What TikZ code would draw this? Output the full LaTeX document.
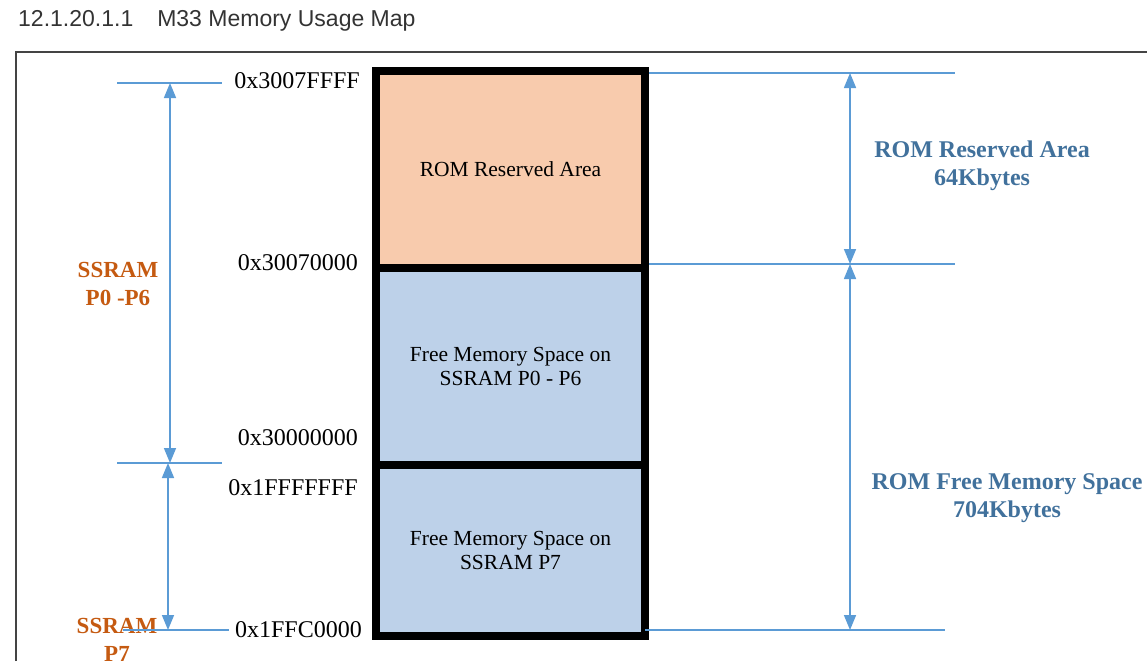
\documentclass[tikz,border=0pt]{standalone}
\usepackage{fontspec}
\setmainfont{Liberation Serif}
\newfontfamily\headfont{Liberation Sans}
\usetikzlibrary{positioning,arrows.meta}
\definecolor{peach}{HTML}{F8CBAD}
\definecolor{ramblue}{HTML}{BDD1E9}
\definecolor{dimline}{HTML}{5B9BD5}
\definecolor{romtext}{HTML}{41719C}
\definecolor{ssramtext}{HTML}{C55A11}
\definecolor{framegray}{HTML}{444444}
\definecolor{headgray}{HTML}{333333}

\begin{document}
\begin{tikzpicture}[x=1pt, y=-1pt,
  membox/.style={draw=black, line width=8pt, outer sep=0pt, minimum width=269pt, align=center, font=\fontsize{21.5}{24}\selectfont},
  addr/.style={anchor=east, inner sep=0pt, font=\fontsize{24}{28}\selectfont},
  romlabel/.style={align=center, text=romtext, font=\fontsize{24}{28}\selectfont\bfseries},
  ssramlabel/.style={align=center, text=ssramtext, font=\fontsize{23}{28}\selectfont\bfseries},
  dimtick/.style={draw=dimline, line width=1.6pt},
  dimarrow/.style={draw=dimline, line width=1.6pt, {Triangle[length=15pt,width=12pt]}-{Triangle[length=15pt,width=12pt]}}]
  \useasboundingbox (0,0) rectangle (1147,661);

  % heading and frame
  \node[anchor=west, inner sep=0pt, text=headgray, font=\headfont\fontsize{23}{26}\selectfont] (title) at (18,21) {12.1.20.1.1\hspace{24pt}M33 Memory Usage Map};
  \draw[framegray, line width=2.4pt] (16,661) -- (16,52) -- (1147,52);

  % memory column
  \node[membox, fill=peach, minimum height=197pt] (rom) at (510.5,169.5) {ROM Reserved Area};
  \node[membox, fill=ramblue, minimum height=197pt, below=0pt of rom] (ssram06) {Free Memory Space on\\SSRAM P0 - P6};
  \node[membox, fill=ramblue, minimum height=171pt, below=0pt of ssram06] (ssram7) {Free Memory Space on\\SSRAM P7};

  % addresses
  \node[addr] (a3007ffff) at (360,81) {0x3007FFFF};
  \node[addr] (a30070000) at (358,263) {0x30070000};
  \node[addr] (a30000000) at (358,438) {0x30000000};
  \node[addr] (a1fffffff) at (358,488) {0x1FFFFFFF};
  \node[addr] (a1ffc0000) at (362,630) {0x1FFC0000};

  % region labels
  \node[ssramlabel] (lblssram06) at (118,284) {SSRAM\\P0 -P6};
  \node[ssramlabel] (lblssram7) at (117,640) {SSRAM\\P7};
  \node[romlabel] (lblromres) at (982,166) {ROM Reserved Area\\64Kbytes};
  \node[romlabel] (lblromfree) at (1007,498) {ROM Free Memory Space\\704Kbytes};

  % dimension marks, left
  \coordinate (sspTop) at (170,83);
  \coordinate (sspMid) at (170,463);
  \coordinate (sspBot) at (168,630);
  \draw[dimtick] ([xshift=-53pt]sspTop) -- ([xshift=52pt]sspTop);
  \draw[dimtick] ([xshift=-53pt]sspMid) -- ([xshift=52pt]sspMid);
  \draw[dimtick] ([xshift=-45pt]sspBot) -- ([xshift=61pt]sspBot);
  \draw[dimarrow] (sspTop) -- (sspMid);
  \draw[dimarrow] (sspMid -| sspBot) -- (sspBot);

  % dimension marks, right
  \coordinate (romTop) at (850,73);
  \coordinate (romMid) at (850,264);
  \coordinate (romBot) at (850,630);
  \draw[dimtick] (rom.north east |- romTop) ++(4pt,0) -- ([xshift=105pt]romTop);
  \draw[dimtick] (rom.east |- romMid) ++(4pt,0) -- ([xshift=105pt]romMid);
  \draw[dimtick] (ssram7.east |- romBot) -- ([xshift=95pt]romBot);
  \draw[dimarrow] (romTop) -- (romMid);
  \draw[dimarrow] (romMid) -- (romBot);
\end{tikzpicture}
\end{document}
